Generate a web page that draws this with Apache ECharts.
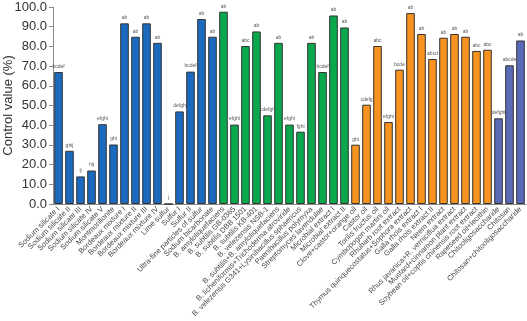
<!DOCTYPE html>
<html><head><meta charset="utf-8">
<script src="https://cdn.jsdelivr.net/npm/echarts@6/dist/echarts.min.js"></script>
<style>html,body{margin:0;padding:0;background:#fff}#c{width:527px;height:321px}</style>
</head><body><div id="c"></div>
<script>
const mineralNames = ["Sodium silicate I","Sodium silicate II","Sodium silicate III","Sodium silicate IV","Sodium silicate V","Montmorillonite","Bordeaux mixture I","Bordeaux mixture II","Bordeaux mixture III","Bordeaux mixture IV","Lime sulfur","Sulfur I","Sulfur II","Ultra-fine particles of sulfur","Sodium bicarbonate"];
const mineralValues = [67.0,27.0,14.0,17.0,40.5,30.2,91.7,84.9,91.7,81.8,0,47.0,67.2,93.9,84.9];
const mineralLetters = ["bcdef","ghij","ij","hij","efghi","ghi","ab","ab","ab","ab","j","defgh","bcdef","ab","ab"];

const microbeNames = ["B. amyloliquefaciens","B. subtilis GB-0365","B. subtilis DBB 1501","B. subtilis KB-401","B. velezensis NSB-1","B. subtilis+B. amyloliquefaciens","B. licheniformis+Trichoderma atroviride","B. velezensis G341+Lysinibacillus sphaericus","Paenibacillus polymyxa","Streptomyces lavendulae","Microbial extract I","Microbial extract II"];
const microbeValues = [97.6,40.3,80.2,87.6,45.0,81.8,40.3,36.7,81.8,67.0,95.7,89.6];
const microbeLetters = ["ab","efghi","abc","ab","cdefgh","ab","efghi","fghi","ab","bcdef","ab","ab"];

const plantNames = ["Clove+castor+orange oil","Castor oil","Torilis fructus oil","Cymbopogon martini oil","Rhubarb root extract","Thymus quinquecostatus+Sophora extract","Galla rhois extract I","Galla rhois extract II","Neem extract","Rhus javanica+R. verniciflua extract","Mustard+cinnamon plant extract","Soybean oil+coptis chinensis root extract","Rapeseed oil+lecithin"];
const plantValues = [30.1,50.4,80.2,41.6,68.2,96.9,86.3,73.6,84.4,86.3,84.9,77.7,78.3];
const plantLetters = ["ghi","cdefg","abc","efghi","bcde","ab","ab","abcd","ab","ab","ab","abc","abc"];

const chitoNames = ["Chitooligosaccharide","Chitosan","Chitosan+chitooligosaccharide"];
const chitoValues = [43.5,70.4,83.0];
const chitoLetters = ["defghi","abcde","ab"];

const yTicks = [0,10,20,30,40,50,60,70,80,90,100];

const groups = [
  {names: mineralNames, values: mineralValues, letters: mineralLetters, color: "#1a6bbf"},
  {names: microbeNames, values: microbeValues, letters: microbeLetters, color: "#0aa84c"},
  {names: plantNames, values: plantValues, letters: plantLetters, color: "#f7931e"},
  {names: chitoNames, values: chitoValues, letters: chitoLetters, color: "#5a6ab8"}
];
const categories = [], data = [];
groups.forEach(g => {
  g.names.forEach((n, i) => {
    categories.push(n);
    data.push({value: g.values[i], letter: g.letters[i], itemStyle: {color: g.color}});
  });
});

const chart = echarts.init(document.getElementById('c'));
chart.setOption({
  animation: false,
  grid: {left: 53, right: 1, top: 7, bottom: 117, containLabel: false, outerBoundsMode: 'none'},
  xAxis: {
    type: 'category', data: categories,
    axisLine: {lineStyle: {color: '#8a8a8a', width: 1}},
    axisTick: {length: 3, lineStyle: {color: '#8a8a8a'}},
    axisLabel: {interval: 0, rotate: 45, fontSize: 7.5, color: '#4a4a4a', margin: 4, fontFamily: 'Liberation Sans'}
  },
  yAxis: {
    type: 'value', min: yTicks[0], max: yTicks[yTicks.length-1], interval: 10,
    name: 'Control value (%)', nameLocation: 'middle', nameGap: 38, nameMoveOverlap: false,
    nameTextStyle: {fontSize: 13, color: '#333', fontFamily: 'Liberation Sans'},
    axisLine: {show: true, lineStyle: {color: '#8a8a8a'}},
    axisTick: {show: true, length: 4, lineStyle: {color: '#8a8a8a'}},
    splitLine: {show: false},
    axisLabel: {formatter: v => v.toFixed(1), fontSize: 13, color: '#333', margin: 6, fontFamily: 'Liberation Sans'}
  },
  series: [{
    type: 'bar', data: data, barCategoryGap: '22%',
    itemStyle: {borderColor: '#333', borderWidth: 1},
    label: {show: true, position: 'top', distance: 3, fontSize: 5, color: '#555', fontFamily: 'Liberation Sans',
      formatter: p => p.data.letter}
  }]
});
</script></body></html>
